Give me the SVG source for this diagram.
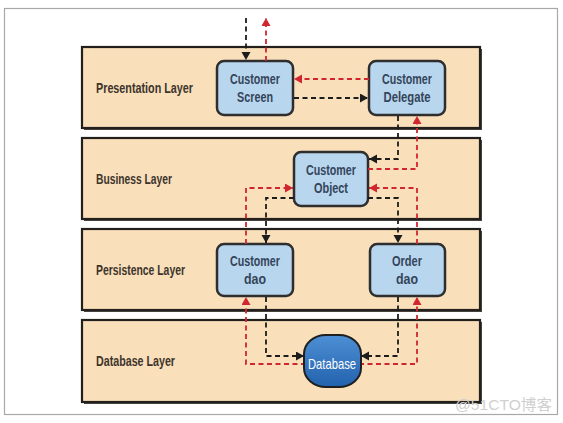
<svg xmlns="http://www.w3.org/2000/svg" width="563" height="423" viewBox="0 0 563 423">
<defs>
<style>
.layer{fill:#f9dfba;stroke:#231f1c;stroke-width:2.2}
.lshadow{fill:#4a4541}
.node{fill:#b8d6ee;stroke:#2e2e2e;stroke-width:2.5}
.ltxt{font-family:"Liberation Sans",Arial,sans-serif;font-size:15px;font-weight:bold;fill:#3d342c}
.ntxt{font-family:"Liberation Sans",Arial,sans-serif;font-size:14.5px;font-weight:bold;fill:#34455a;text-anchor:middle}
.blk{fill:none;stroke:#1c1c1c;stroke-width:1.8;stroke-dasharray:5 3.5;marker-end:url(#ab)}
.red{fill:none;stroke:#d0262e;stroke-width:1.8;stroke-dasharray:5 3.5;marker-end:url(#ar)}
</style>
<marker id="ab" markerUnits="userSpaceOnUse" markerWidth="10" markerHeight="10" refX="8" refY="4.5" orient="auto"><path d="M0,0 L8,4.5 L0,9 z" fill="#1c1c1c"/></marker>
<marker id="ar" markerUnits="userSpaceOnUse" markerWidth="10" markerHeight="10" refX="8" refY="4.5" orient="auto"><path d="M0,0 L8,4.5 L0,9 z" fill="#d0262e"/></marker>
<linearGradient id="dbg" x1="0" y1="0" x2="0" y2="1"><stop offset="0" stop-color="#4d8fd4"/><stop offset="1" stop-color="#2362ad"/></linearGradient>
</defs>
<rect x="4.5" y="8.5" width="553" height="406" fill="#fff" stroke="#a8a8a8" stroke-width="1.2"/>
<g id="layers">
<g id="presentation-layer"><rect class="lshadow" x="84" y="49" width="398" height="81"/><rect class="layer" x="82" y="47" width="398" height="81"/><text class="ltxt" x="96" y="93" textLength="97" lengthAdjust="spacingAndGlyphs">Presentation Layer</text></g>
<g id="business-layer"><rect class="lshadow" x="84" y="140" width="398" height="81"/><rect class="layer" x="82" y="138" width="398" height="81"/><text class="ltxt" x="96" y="184" textLength="76" lengthAdjust="spacingAndGlyphs">Business Layer</text></g>
<g id="persistence-layer"><rect class="lshadow" x="84" y="231" width="398" height="81"/><rect class="layer" x="82" y="229" width="398" height="81"/><text class="ltxt" x="96" y="275" textLength="89" lengthAdjust="spacingAndGlyphs">Persistence Layer</text></g>
<g id="database-layer"><rect class="lshadow" x="84" y="322" width="398" height="82"/><rect class="layer" x="82" y="320" width="398" height="82"/><text class="ltxt" x="96" y="366" textLength="79" lengthAdjust="spacingAndGlyphs">Database Layer</text></g>
</g>
<g id="customer-screen"><rect class="node" x="217" y="61" width="76" height="54" rx="7"/><text class="ntxt" x="255" y="84" textLength="50" lengthAdjust="spacingAndGlyphs">Customer</text><text class="ntxt" x="255" y="102" textLength="36" lengthAdjust="spacingAndGlyphs">Screen</text></g>
<g id="customer-delegate"><rect class="node" x="369" y="61" width="76" height="54" rx="7"/><text class="ntxt" x="407" y="84" textLength="50" lengthAdjust="spacingAndGlyphs">Customer</text><text class="ntxt" x="407" y="102" textLength="47" lengthAdjust="spacingAndGlyphs">Delegate</text></g>
<g id="customer-object"><rect class="node" x="294" y="152" width="74" height="54" rx="7"/><text class="ntxt" x="331" y="175" textLength="50" lengthAdjust="spacingAndGlyphs">Customer</text><text class="ntxt" x="331" y="193" textLength="34" lengthAdjust="spacingAndGlyphs">Object</text></g>
<g id="customer-dao"><rect class="node" x="217" y="244" width="76" height="52" rx="7"/><text class="ntxt" x="255" y="266" textLength="50" lengthAdjust="spacingAndGlyphs">Customer</text><text class="ntxt" x="255" y="284" textLength="22" lengthAdjust="spacingAndGlyphs">dao</text></g>
<g id="order-dao"><rect class="node" x="370" y="244" width="75" height="52" rx="7"/><text class="ntxt" x="407" y="266" textLength="30" lengthAdjust="spacingAndGlyphs">Order</text><text class="ntxt" x="407" y="284" textLength="22" lengthAdjust="spacingAndGlyphs">dao</text></g>
<g id="connectors">
<path class="blk" d="M246,18 V60"/>
<path class="red" d="M266,61 V18"/>
<path class="red" d="M369,79 H294"/>
<path class="blk" d="M294,98 H368"/>
<path class="blk" d="M398,116 V159 H369"/>
<path class="red" d="M368,169 H417 V116"/>
<path class="red" d="M246,244 V188 H293"/>
<path class="blk" d="M294,198 H266 V243"/>
<path class="blk" d="M368,198 H398 V243"/>
<path class="red" d="M417,244 V188 H369"/>
<path class="blk" d="M266,297 V356 H304"/>
<path class="blk" d="M398,297 V356 H361"/>
<path class="red" d="M306,364 H246 V297"/>
<path class="red" d="M359,364 H417 V297"/>
</g>
<g id="database"><rect x="304" y="335" width="57" height="52" rx="22" ry="19" fill="url(#dbg)" stroke="#1f1f1f" stroke-width="2"/><text x="332" y="369" font-family="'Liberation Sans',Arial,sans-serif" font-size="14.5" fill="#fff" text-anchor="middle" textLength="48" lengthAdjust="spacingAndGlyphs">Database</text></g>
<text x="455" y="410" font-family="'Liberation Sans','Noto Sans CJK SC',sans-serif" font-size="15" fill="#d0d0d0" textLength="97" lengthAdjust="spacingAndGlyphs">@51CTO博客</text>
</svg>
